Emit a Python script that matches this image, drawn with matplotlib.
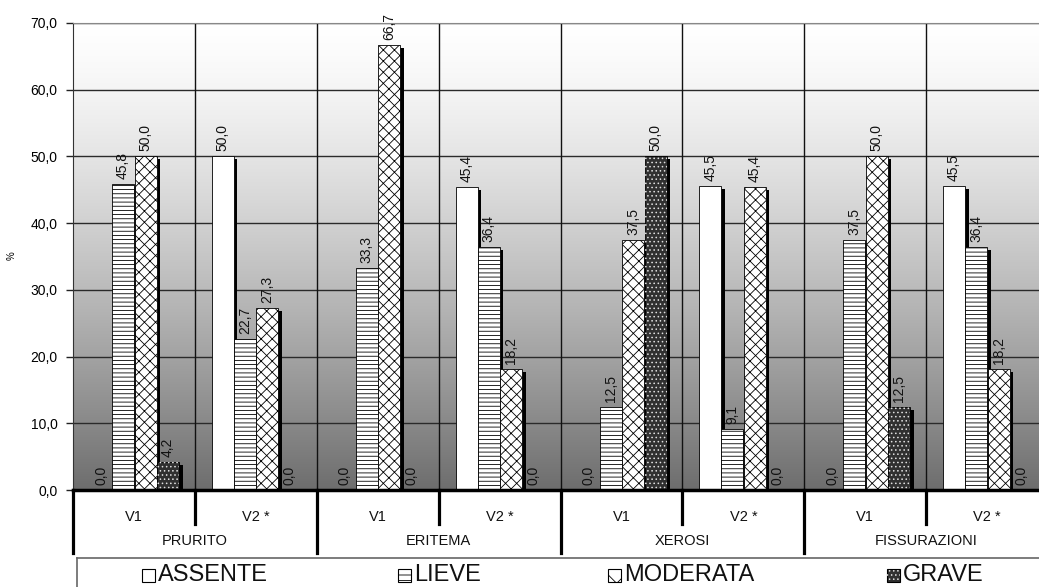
import matplotlib
matplotlib.use("Agg")
import matplotlib.pyplot as plt
import numpy as np
from matplotlib.patches import Rectangle
from matplotlib.lines import Line2D

plt.rcParams['font.family'] = ['Liberation Sans', 'DejaVu Sans']
plt.rcParams['hatch.linewidth'] = 0.6

groups = ["PRURITO", "ERITEMA", "XEROSI", "FISSURAZIONI"]
visits = ["V1", "V2 *"]
series = ["ASSENTE", "LIEVE", "MODERATA", "GRAVE"]
assente = [0.0, 50.0, 0.0, 45.4, 0.0, 45.5, 0.0, 45.5]
lieve = [45.8, 22.7, 33.3, 36.4, 12.5, 9.1, 37.5, 36.4]
moderata = [50.0, 27.3, 66.7, 18.2, 37.5, 45.4, 50.0, 18.2]
grave = [4.2, 0.0, 0.0, 0.0, 50.0, 0.0, 12.5, 0.0]
yticks = [0, 10, 20, 30, 40, 50, 60, 70]

W, H = 1039, 587
fig = plt.figure(figsize=(W / 100, H / 100), dpi=100)
ax_l, ax_r, ax_t, ax_b = 73, 1048, 23, 490
ax = fig.add_axes([ax_l / W, (H - ax_b) / H, (ax_r - ax_l) / W, (ax_b - ax_t) / H])
ax.set_xlim(0, 8)
ax.set_ylim(0, 70)

# gradient background: row 0 = bottom (dark), last row = top (white)
t = np.linspace(0, 1, 256)
darkness = (1 - t) ** 1.35
vals = 1.0 - darkness * (1.0 - 0.43)
img = np.repeat(vals[:, None, None], 3, axis=2)
ax.imshow(img, aspect='auto', extent=(0, 8, 0, 70), origin='lower', zorder=0)

# grid
for y in yticks[1:]:
    ax.axhline(y, color='#2a2a2a', lw=1.0, zorder=1)
for x in range(1, 8):
    ax.axvline(x, color='#111111', lw=1.0, zorder=1)

px_x = 8 / (ax_r - ax_l)
px_y = 70 / (ax_b - ax_t)
bw = 22 * px_x
offs = [17 * px_x, 39 * px_x, 61.5 * px_x, 84 * px_x]
sx, sy = 3.5 * px_x, 3 * px_y

data = [assente, lieve, moderata, grave]
styles = [
    dict(facecolor='white', edgecolor='black', hatch=None),
    dict(facecolor='white', edgecolor='black', hatch='----'),
    dict(facecolor='white', edgecolor='black', hatch='xxx'),
    dict(facecolor='#303030', edgecolor='black', hatch=None),
]

for s, vals_s in enumerate(data):
    for i, v in enumerate(vals_s):
        x0 = i + offs[s]
        if v > 0:
            ax.bar(x0 + sx, max(v - sy, 0), width=bw, bottom=0, align='edge',
                   color='black', lw=0, zorder=2)
            ax.bar(x0, v, width=bw, align='edge', lw=0.6, zorder=3, **styles[s])
            if s == 3:
                ax.bar(x0, v, width=bw, align='edge', facecolor='none',
                       edgecolor='#e0e0e0', hatch='....', lw=0, zorder=4)
        lbl = f"{v:.1f}".replace('.', ',')
        ax.text(x0 + bw / 2, v + 5 * px_y, lbl, rotation=90, ha='center',
                va='bottom', fontsize=10, color='#111111', zorder=5)

ax.set_yticks(yticks)
ax.set_yticklabels([f"{t:.1f}".replace('.', ',') for t in yticks], fontsize=10)
ax.set_xticks([])
ax.tick_params(axis='y', length=5, width=1, color='#222222', pad=6)
ax.set_ylabel('%', fontsize=7)
ax.yaxis.set_label_coords((17 - ax_l) / (ax_r - ax_l), (ax_b - 256) / (ax_b - ax_t))
ax.spines['right'].set_visible(False)
ax.spines['top'].set_color('#888888')
ax.spines['left'].set_color('#333333')
ax.spines['bottom'].set_linewidth(2.5)
ax.spines['bottom'].set_color('black')
ax.spines['bottom'].set_zorder(6)

# category axis below
tr = ax.get_xaxis_transform()
hpx = ax_b - ax_t
def yf(ypix):
    return (ax_b - ypix) / hpx
for x in range(0, 9):
    yend = 553 if x % 2 == 0 else 524
    ax.add_line(Line2D([x, x], [0, yf(yend)], transform=tr, color='black',
                       lw=2.3, clip_on=False, zorder=6))
for i in range(8):
    ax.text(i + 0.5, yf(517), visits[i % 2], transform=tr, ha='center',
            va='center', fontsize=10.5, color='#111111')
for g, name in enumerate(groups):
    ax.text(2 * g + 1, yf(541), name, transform=tr, ha='center', va='center',
            fontsize=10.5, color='#111111')

# legend box
fig.add_artist(Line2D([77 / W, 1.0], [(H - 558) / H] * 2, color='#666666', lw=1.2,
                      transform=fig.transFigure))
fig.add_artist(Line2D([77 / W, 77 / W], [(H - 558) / H, 0], color='#666666', lw=1.2,
                      transform=fig.transFigure))
leg_x = [142, 398, 608, 887]
leg_y = 575
sq = 13
leg_hatch = [None, '---', 'x', None]
for s in range(4):
    x = leg_x[s]
    st = styles[s]
    fig.add_artist(Rectangle((x / W, (H - leg_y - sq / 2) / H), sq / W, sq / H,
                             transform=fig.transFigure, facecolor=st['facecolor'],
                             edgecolor='black', hatch=leg_hatch[s], lw=0.8))
    if s == 3:
        fig.add_artist(Rectangle((x / W, (H - leg_y - sq / 2) / H), sq / W, sq / H,
                                 transform=fig.transFigure, facecolor='none',
                                 edgecolor='#e0e0e0', hatch='....', lw=0))
    fig.text((x + sq + 3) / W, (H - leg_y) / H, series[s], fontsize=17,
             ha='left', va='center', color='#111111')

fig.savefig('out.png', dpi=100, facecolor='white')
